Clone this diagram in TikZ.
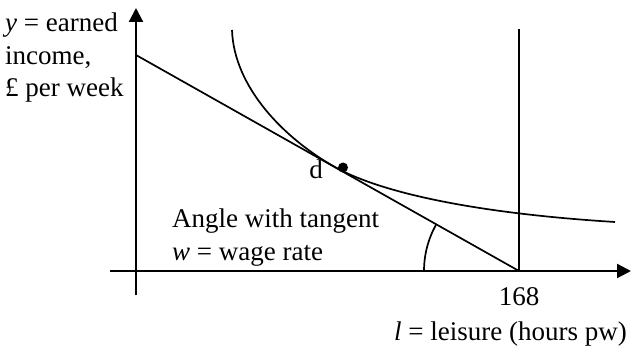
\documentclass[tikz,border=0pt]{standalone}
\usepackage{fontspec}
\setmainfont{Liberation Serif}
\usepackage{tikz}
\usetikzlibrary{
  arrows.meta,
  positioning,
}
\tikzset{
  axisLine/.style={
    -{Triangle[length=14pt,width=14pt]}, line width=2.2pt,
  },
  plainLine/.style={
    line width=1.7pt,
  },
  lbl/.style={
    inner sep=0pt, align=left, font=\fontsize{27}{32.5}\selectfont,
  },
}

\begin{document}
\begin{tikzpicture}[x=1pt,y=1pt]
\useasboundingbox (0,0) rectangle (631,348);

% axes
\coordinate (xStart) at (110,77);
\coordinate (xEnd) at (631,77);
\coordinate (yStart) at (136,53);
\coordinate (yEnd) at (136,340);
\draw[axisLine] (xStart) -- (xEnd);
\draw[axisLine] (yStart) -- (yEnd);

% budget line and the 168 hours limit
\coordinate (yInt) at (136,293);
\coordinate (lMax) at (519,77);
\coordinate (lTop) at (519,319);
\draw[plainLine] (yInt) -- (lMax);
\draw[plainLine] (lMax) -- (lTop);

% indifference curve, touching the budget line at tanPt
\coordinate (tanPt) at (335,180.9);
\draw[plainLine] (232,318) .. controls (234,260) and (285,209.1) .. (tanPt)
  .. controls (365,164) and (440,137) .. (615,126);
\fill (343,180.5) circle (5pt);

% angle mark
\draw[plainLine] (lMax) ++(180:95) arc (180:150.6:95);

% labels
\node[lbl, anchor=north west] (yLabel) at (5,335)
  {\textit{y} = earned\\income,\\£ per week};
\node[lbl, anchor=base east] (dLabel) at (323,169) {d};
\node[lbl, anchor=base west] (angLabel) at (172,120) {Angle with tangent};
\node[lbl, anchor=base west] (wLabel) at (172,88) {\textit{w} = wage rate};
\node[lbl, anchor=base] (hLabel) at (519,43) {168};
\node[lbl, anchor=base east] (xLabel) at (627,8) {\textit{l} = leisure (hours pw)};

\end{tikzpicture}
\end{document}
